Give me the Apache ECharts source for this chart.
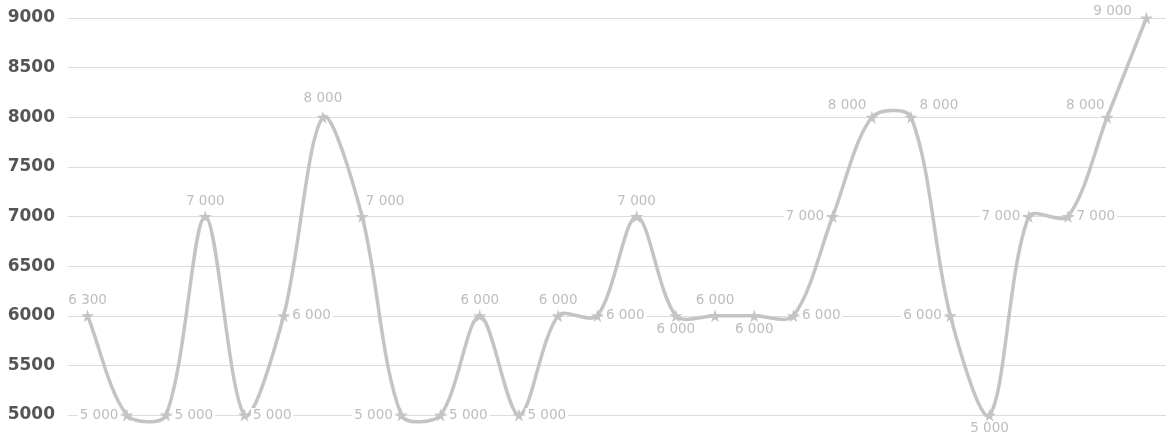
<!DOCTYPE html>
<html>
<head>
<meta charset="utf-8">
<script src="https://cdn.jsdelivr.net/npm/echarts@6/dist/echarts.min.js"></script>
<style>html,body{margin:0;padding:0;background:#fff}#c{width:1168px;height:438px}</style>
</head>
<body>
<div id="c"></div>
<script>
const categories = ['1','2','3','4','5','6','7','8','9','10','11','12','13','14','15','16','17','18','19','20','21','22','23','24','25','26','27','28'];
const values = [6000,5000,5000,7000,5000,6000,8000,7000,5000,5000,6000,5000,6000,6000,7000,6000,6000,6000,6000,7000,8000,8000,6000,5000,7000,7000,8000,9000];
const labelTexts = ['6 300','5 000','5 000','7 000','5 000','6 000','8 000','7 000','5 000','5 000','6 000','5 000','6 000','6 000','7 000','6 000','6 000','6 000','6 000','7 000','8 000','8 000','6 000','5 000','7 000','7 000','8 000','9 000'];
const yTicks = [5000, 5500, 6000, 6500, 7000, 7500, 8000, 8500, 9000];

// label placement (presentation only)
const placement = ['top','left','right','top','right','right','topHigh','topR','left','right','top','right','top','right','top','bottom','top','bottom','right','left','upLeftA','upRight','left','bottom','left','right','upLeftB','upLeftC'];
function labelFor(i) {
  const p = placement[i];
  const lab = { formatter: labelTexts[i] };
  switch (p) {
    case 'top': lab.position = 'top'; lab.distance = 2; break;
    case 'topHigh': lab.position = 'top'; lab.distance = 5; break;
    case 'topR': lab.position = 'top'; lab.distance = 2; lab.offset = [23, 0]; break;
    case 'bottom': lab.position = 'bottom'; lab.distance = 0; break;
    case 'upLeftA': lab.position = 'left'; lab.offset = [3, -12]; break;
    case 'upLeftB': lab.position = 'left'; lab.offset = [6, -12]; break;
    case 'upLeftC': lab.position = 'left'; lab.offset = [-6, -7]; break;
    case 'upRight': lab.position = 'right'; lab.offset = [0, -12]; break;
    default: lab.position = p;
  }
  return lab;
}
const data = values.map((v, i) => ({ value: v, label: labelFor(i) }));

const TENSION = 0.31;
function splineSegment(params, api) {
  const i = params.dataIndex;
  const n = values.length;
  if (i >= n - 1) return null;
  const pt = k => { const j = Math.max(0, Math.min(n - 1, k)); return api.coord([j, values[j]]); };
  const p0 = pt(i - 1), p1 = pt(i), p2 = pt(i + 1), p3 = pt(i + 2);
  const dist = (a, b) => Math.hypot(a[0] - b[0], a[1] - b[1]);
  const d01 = dist(p0, p1), d12 = dist(p1, p2), d23 = dist(p2, p3);
  const fb = (d01 + d12) ? TENSION * d12 / (d01 + d12) : 0;
  const c1 = [p1[0] + fb * (p2[0] - p0[0]), p1[1] + fb * (p2[1] - p0[1])];
  const fa = (d12 + d23) ? TENSION * d12 / (d12 + d23) : 0;
  const c2 = [p2[0] - fa * (p3[0] - p1[0]), p2[1] - fa * (p3[1] - p1[1])];
  return {
    type: 'bezierCurve',
    shape: { x1: p1[0], y1: p1[1], x2: p2[0], y2: p2[1], cpx1: c1[0], cpy1: c1[1], cpx2: c2[0], cpy2: c2[1] },
    style: { stroke: '#c4c4c4', lineWidth: 3.5, fill: null, lineCap: 'round' }
  };
}

const chart = echarts.init(document.getElementById('c'));
chart.setOption({
  animation: false,
  grid: { left: 68, right: 2, top: 18, bottom: 23, containLabel: false },
  xAxis: { type: 'category', data: categories, boundaryGap: true, show: false },
  yAxis: {
    type: 'value', min: yTicks[0], max: yTicks[yTicks.length - 1], interval: 500,
    axisLine: { show: false }, axisTick: { show: false },
    splitLine: { lineStyle: { color: '#dcdcdc', width: 1 } },
    axisLabel: { color: '#555', fontSize: 17, fontWeight: 600, fontFamily: 'DejaVu Sans', margin: 13, formatter: v => String(v) }
  },
  series: [{
    type: 'custom', data: values, renderItem: splineSegment, z: 1, silent: true, clip: false
  }, {
    type: 'line', data: data, z: 2,
    symbol: 'path://M50,0 L61,35 L98,35 L68,57 L79,91 L50,70 L21,91 L32,57 L2,35 L39,35 Z',
    symbolSize: 13,
    lineStyle: { opacity: 0, width: 0 },
    itemStyle: { color: '#c4c4c4' },
    label: {
      show: true, color: '#bdbdbd', fontSize: 13.5, fontFamily: 'DejaVu Sans',
      backgroundColor: '#fff', padding: [0, 2], distance: 0
    }
  }]
});
</script>
</body>
</html>
